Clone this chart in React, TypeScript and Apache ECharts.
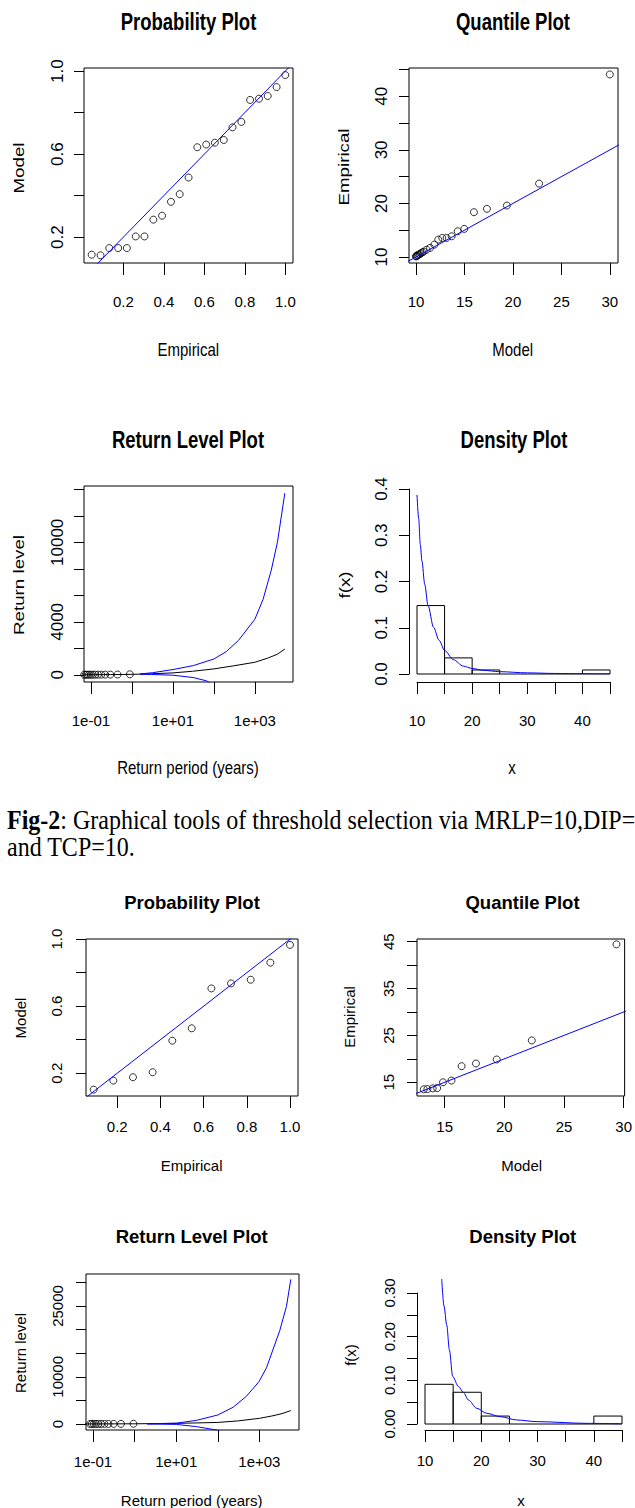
import React, { useEffect, useRef } from 'react';
import * as echarts from 'echarts';

// ================= DATA =================
// Upper figure (threshold 10, 23 exceedances)
const ppTopEmpirical = [0.043, 0.087, 0.130, 0.174, 0.217, 0.261, 0.304, 0.348, 0.391, 0.435, 0.478, 0.522, 0.565, 0.609, 0.652, 0.696, 0.739, 0.783, 0.826, 0.870, 0.913, 0.957, 1.0];
const ppTopModel = [0.115, 0.112, 0.147, 0.147, 0.147, 0.203, 0.203, 0.284, 0.303, 0.370, 0.407, 0.487, 0.633, 0.646, 0.655, 0.668, 0.729, 0.755, 0.861, 0.867, 0.880, 0.923, 0.981];

const qqTopModel = [10.0, 10.05, 10.1, 10.2, 10.3, 10.4, 10.5, 10.65, 10.8, 11.1, 11.45, 11.9, 12.3, 12.71, 13.16, 13.68, 14.3, 14.98, 15.98, 17.32, 19.38, 22.7, 30.0];
const qqTopEmpirical = [10.1, 10.15, 10.25, 10.35, 10.45, 10.55, 10.7, 10.85, 11.0, 11.35, 11.7, 12.3, 13.24, 13.55, 13.55, 13.86, 14.8, 15.24, 18.36, 18.99, 19.6, 23.7, 44.1];

const rlTopPeriod = [0.0387, 0.0405, 0.0424, 0.0445, 0.0468, 0.0494, 0.0524, 0.0556, 0.0593, 0.0636, 0.0685, 0.0742, 0.0809, 0.089, 0.0989, 0.1113, 0.1271, 0.1483, 0.178, 0.2225, 0.2967, 0.445, 0.89];
const rlTopLevel = [10.1, 10.15, 10.25, 10.35, 10.45, 10.55, 10.7, 10.85, 11.0, 11.35, 11.7, 12.3, 13.24, 13.55, 13.55, 13.86, 14.8, 15.24, 18.36, 18.99, 19.6, 23.7, 44.1];
const rlTopFitPeriod = [0.05, 0.3, 1, 3, 10, 30, 100, 300, 1000, 2000, 3500, 5400];
const rlTopFitLevel = [10, 20, 40, 80, 150, 270, 450, 680, 950, 1250, 1550, 1950];
const rlTopUpperPeriod = [1.58, 3.16, 10, 31.6, 100, 200, 398, 1000, 1585, 2512, 3548, 5370];
const rlTopUpperLevel = [70, 160, 400, 700, 1200, 1750, 2600, 4200, 5700, 7900, 10000, 13700];
const rlTopLowerPeriod = [1.57, 3, 10, 31, 66, 100];
const rlTopLowerLevel = [50, 30, -25, -200, -450, -800];

const histBinStart = [10, 15, 20, 25, 30, 35, 40];
const histBinEnd = [15, 20, 25, 30, 35, 40, 45];
const densTopHeight = [0.148, 0.0348, 0.0087, 0, 0, 0, 0.0087];
const densTopCurveX = [10, 10.3, 10.6, 10.9, 11.4, 12, 13, 14, 15, 16.6, 18.4, 20, 22, 25, 30, 35, 40, 45];
const densTopCurveY = [0.387, 0.337, 0.28, 0.244, 0.194, 0.148, 0.101, 0.073, 0.051, 0.031, 0.017, 0.012, 0.008, 0.005, 0.0025, 0.0012, 0.0006, 0.0003];

// Lower figure (11 exceedances)
const ppBotEmpirical = [0.091, 0.182, 0.273, 0.364, 0.455, 0.545, 0.636, 0.727, 0.818, 0.909, 1.0];
const ppBotModel = [0.102, 0.156, 0.176, 0.206, 0.394, 0.468, 0.706, 0.736, 0.758, 0.86, 0.966];

const qqBotModel = [13.25, 13.55, 14.0, 14.37, 14.86, 15.57, 16.42, 17.62, 19.36, 22.3, 29.4];
const qqBotEmpirical = [13.5, 13.55, 13.7, 13.75, 15.0, 15.36, 18.43, 19.0, 19.86, 23.93, 44.43];

const rlBotPeriod = [0.0855, 0.094, 0.1044, 0.1175, 0.1343, 0.1567, 0.188, 0.235, 0.3133, 0.47, 0.94];
const rlBotLevel = [13.5, 13.55, 13.7, 13.75, 15.0, 15.36, 18.43, 19.0, 19.86, 23.93, 44.43];
const rlBotFitPeriod = [0.05, 1, 10, 100, 300, 1000, 2000, 3500, 5700];
const rlBotFitLevel = [13, 40, 130, 330, 650, 1200, 1700, 2200, 2850];
const rlBotUpperPeriod = [2, 10, 31, 100, 234, 490, 977, 1479, 3090, 4467, 5700];
const rlBotUpperLevel = [50, 170, 780, 1907, 3550, 5900, 8969, 11900, 19800, 24900, 30650];
const rlBotLowerPeriod = [2, 10, 31, 93, 150];
const rlBotLowerLevel = [0, -80, -565, -1271, -2000];

const densBotHeight = [0.0909, 0.0727, 0.0182, 0, 0, 0, 0.0182];
const densBotCurveX = [12.97, 13.38, 13.86, 14.33, 14.92, 15.93, 16.82, 17.71, 19.19, 20.97, 23.35, 26.3, 29.9, 38.8, 45];
const densBotCurveY = [0.332, 0.27, 0.227, 0.17, 0.109, 0.086, 0.0727, 0.055, 0.036, 0.0245, 0.0168, 0.0092, 0.0054, 0.0015, 0.0005];

// Reference lines y = x
const ppRefLine = [0, 1.2];
const qqRefLine = [5, 50];

// Tick values / labels
const ppTicks = [0.2, 0.4, 0.6, 0.8, 1.0];
const ppYLabels = [0.2, 0.6, 1.0];
const qqTopXTicks = [10, 15, 20, 25, 30];
const qqTopYTicks = [10, 15, 20, 25, 30, 35, 40, 45];
const qqTopYLabels = [10, 20, 30, 40];
const qqBotXTicks = [15, 20, 25, 30];
const qqBotYTicks = [15, 20, 25, 30, 35, 40, 45];
const qqBotYLabels = [15, 25, 35, 45];
const rlLogTicks = [-1, 0, 1, 2, 3];
const rlLogLabels = [-1, 1, 3];
const rlTopYTicks = [0, 2000, 4000, 6000, 8000, 10000, 12000, 14000];
const rlTopYLabels = [0, 4000, 10000];
const rlBotYTicks = [0, 5000, 10000, 15000, 20000, 25000, 30000];
const rlBotYLabels = [0, 10000, 25000];
const densXTicks = [10, 15, 20, 25, 30, 35, 40, 45];
const densXLabels = [10, 20, 30, 40];
const densTopYTicks = [0, 0.1, 0.2, 0.3, 0.4];
const densBotYTicks = [0, 0.05, 0.1, 0.15, 0.2, 0.25, 0.3];
const densBotYLabels = [0, 0.1, 0.2, 0.3];

// ================= LAYOUT =================
const FONT = "'Liberation Sans', Arial, Helvetica, sans-serif";
const SERIF = "'Liberation Serif', 'Times New Roman', serif";
const BLUE = '#0000ff';

const G = {
  ppTop: { left: 84, top: 68, width: 209, height: 195 },
  qqTop: { left: 409, top: 68, width: 209, height: 195 },
  rlTop: { left: 84, top: 486, width: 209, height: 196 },
  dnTop: { left: 417, top: 489, width: 193, height: 185 },
  ppBot: { left: 86, top: 939, width: 212, height: 157 },
  qqBot: { left: 417, top: 939, width: 212, height: 157 },
  rlBot: { left: 86, top: 1274, width: 213, height: 156 },
  dnBot: { left: 425, top: 1293, width: 197, height: 131 },
};

function grid(b: any, boxed: boolean) {
  return { ...b, show: boxed, borderColor: '#000', borderWidth: 1, backgroundColor: 'transparent', containLabel: false };
}

function axis(kind: 'x' | 'y', gridIndex: number, min: number, max: number, ticks: number[], labels: number[], fmt: (v: number) => string, o: any) {
  return {
    type: 'value',
    gridIndex,
    min,
    max,
    position: kind === 'x' ? 'bottom' : 'left',
    offset: o.offset || 0,
    axisLine: { show: !!o.line, onZero: false, lineStyle: { color: '#000', width: 1 } },
    axisTick: { show: true, inside: false, length: kind === 'x' ? 12 : 10, customValues: ticks, lineStyle: { color: '#000', width: 1 } },
    axisLabel: {
      show: true,
      customValues: labels,
      formatter: fmt,
      margin: o.margin,
      fontSize: o.fontSize,
      fontFamily: FONT,
      color: '#000',
      rotate: kind === 'y' ? 90 : 0,
      hideOverlap: false,
    },
    splitLine: { show: false },
    splitArea: { show: false },
  };
}

function logAxis(gridIndex: number, lo: number, hi: number) {
  return { type: 'log', logBase: 10, gridIndex, min: Math.pow(10, lo), max: Math.pow(10, hi), show: false, position: 'top', splitLine: { show: false } };
}

const f1 = (v: number) => v.toFixed(1);
const f2 = (v: number) => v.toFixed(2);
const fi = (v: number) => String(Math.round(v));
const fe = (v: number) => '1e' + (v < 0 ? '-' : '+') + String(Math.abs(Math.round(v))).padStart(2, '0');

const zip = (a: number[], b: number[]) => a.map((v, i) => [v, b[i]]);

function scatter(xi: number, yi: number, xs: number[], ys: number[]) {
  return {
    type: 'scatter', xAxisIndex: xi, yAxisIndex: yi, data: zip(xs, ys),
    symbol: 'circle', symbolSize: 7, clip: true, silent: true,
    itemStyle: { color: 'rgba(0,0,0,0)', borderColor: '#000', borderWidth: 1 },
  };
}

function line(xi: number, yi: number, xs: number[], ys: number[], color: string, smooth = 0, clip = true) {
  return {
    type: 'line', xAxisIndex: xi, yAxisIndex: yi, data: zip(xs, ys),
    symbol: 'none', showSymbol: false, clip, silent: true,
    smooth, smoothMonotone: 'x',
    lineStyle: { color, width: 1 },
  };
}

function hist(xi: number, yi: number, heights: number[]) {
  return {
    type: 'custom', xAxisIndex: xi, yAxisIndex: yi, silent: true,
    data: histBinStart.map((s, i) => [s, histBinEnd[i], heights[i]]),
    encode: { x: [0, 1], y: 2 },
    renderItem: (_p: any, api: any) => {
      const a = api.coord([api.value(0), api.value(2)]);
      const b = api.coord([api.value(1), 0]);
      if (Math.abs(b[1] - a[1]) < 0.5) {
        return { type: 'line', shape: { x1: a[0], y1: b[1], x2: b[0], y2: b[1] }, style: { stroke: '#000', lineWidth: 1, fill: null } };
      }
      return { type: 'rect', shape: { x: a[0], y: a[1], width: b[0] - a[0], height: b[1] - a[1] }, style: { fill: 'none', stroke: '#000', lineWidth: 1 } };
    },
  };
}

function txt(text: string, x: number, y: number, size: number, bold: boolean, stretch: number, rotated = false) {
  return {
    type: 'text', x, y,
    rotation: rotated ? Math.PI / 2 : 0,
    scaleX: rotated ? stretch : 1,
    scaleY: rotated ? 1 : stretch,
    silent: true,
    style: {
      text, fill: '#000', fontSize: size, fontFamily: FONT, fontWeight: bold ? 'bold' : 'normal',
      textAlign: 'center', textVerticalAlign: 'middle', align: 'center', verticalAlign: 'middle',
    },
  };
}

function buildOption() {
  const grids = [
    grid(G.ppTop, true), grid(G.qqTop, true), grid(G.rlTop, true), grid(G.dnTop, false),
    grid(G.ppBot, true), grid(G.qqBot, true), grid(G.rlBot, true), grid(G.dnBot, false),
  ];
  const xAxes = [
    axis('x', 0, 0.0052, 1.038, ppTicks, ppTicks, f1, { margin: 31, fontSize: 15 }), // 0
    axis('x', 1, 9.28, 30.84, qqTopXTicks, qqTopXTicks, fi, { margin: 31, fontSize: 15 }), // 1
    logAxis(2, -1.17, 3.93), // 2
    axis('x', 2, -1.17, 3.93, rlLogTicks, rlLogLabels, fe, { margin: 30.5, fontSize: 15 }), // 3
    axis('x', 3, 10, 45, densXTicks, densXLabels, fi, { margin: 30.5, fontSize: 15, line: true, offset: 8 }), // 4
    axis('x', 4, 0.0555, 1.037, ppTicks, ppTicks, f1, { margin: 22.5, fontSize: 15 }), // 5
    axis('x', 5, 12.68, 30.08, qqBotXTicks, qqBotXTicks, fi, { margin: 22.5, fontSize: 15 }), // 6
    logAxis(6, -1.168, 3.952), // 7
    axis('x', 6, -1.168, 3.952, rlLogTicks, rlLogLabels, fe, { margin: 24, fontSize: 15 }), // 8
    axis('x', 7, 10, 45, densXTicks, densXLabels, fi, { margin: 22.5, fontSize: 15, line: true, offset: 6 }), // 9
  ];
  const yAxes = [
    axis('y', 0, 0.075, 1.015, ppTicks, ppYLabels, f1, { margin: 18.5, fontSize: 17 }),
    axis('y', 1, 8.87, 45.3, qqTopYTicks, qqTopYLabels, fi, { margin: 18.8, fontSize: 17 }),
    axis('y', 2, -538, 14248, rlTopYTicks, rlTopYLabels, fi, { margin: 18.5, fontSize: 17 }),
    axis('y', 3, 0, 0.4, densTopYTicks, densTopYTicks, f1, { margin: 18.8, fontSize: 17, line: true, offset: 8 }),
    axis('y', 4, 0.064, 1.001, ppTicks, ppYLabels, f1, { margin: 21.8, fontSize: 15 }),
    axis('y', 5, 12.07, 45.57, qqBotYTicks, qqBotYLabels, fi, { margin: 21.2, fontSize: 15 }),
    axis('y', 6, -1271, 31780, rlBotYTicks, rlBotYLabels, fi, { margin: 21.5, fontSize: 15 }),
    axis('y', 7, 0, 0.3, densBotYTicks, densBotYLabels, f2, { margin: 20.5, fontSize: 15, line: true, offset: 8 }),
  ];

  const series = [
    // Probability plot (top)
    line(0, 0, ppRefLine, ppRefLine, BLUE),
    scatter(0, 0, ppTopEmpirical, ppTopModel),
    // Quantile plot (top)
    line(1, 1, qqRefLine, qqRefLine, BLUE),
    scatter(1, 1, qqTopModel, qqTopEmpirical),
    // Return level plot (top)
    line(2, 2, rlTopFitPeriod, rlTopFitLevel, '#000'),
    line(2, 2, rlTopUpperPeriod, rlTopUpperLevel, BLUE),
    line(2, 2, rlTopLowerPeriod, rlTopLowerLevel, BLUE),
    scatter(2, 2, rlTopPeriod, rlTopLevel),
    // Density plot (top)
    hist(4, 3, densTopHeight),
    line(4, 3, densTopCurveX, densTopCurveY, BLUE, 0.3),
    // Probability plot (bottom)
    line(5, 4, ppRefLine, ppRefLine, BLUE),
    scatter(5, 4, ppBotEmpirical, ppBotModel),
    // Quantile plot (bottom)
    line(6, 5, qqRefLine, qqRefLine, BLUE),
    scatter(6, 5, qqBotModel, qqBotEmpirical),
    // Return level plot (bottom)
    line(7, 6, rlBotFitPeriod, rlBotFitLevel, '#000'),
    line(7, 6, rlBotUpperPeriod, rlBotUpperLevel, BLUE),
    line(7, 6, rlBotLowerPeriod, rlBotLowerLevel, BLUE),
    scatter(7, 6, rlBotPeriod, rlBotLevel),
    // Density plot (bottom)
    hist(9, 7, densBotHeight),
    line(9, 7, densBotCurveX, densBotCurveY, BLUE, 0.3, false),
  ];

  const S1 = 1.25;
  const S2 = 1.0;
  const elements: any[] = [
    txt('Probability Plot', 188.5, 21.5, 18.5, true, S1),
    txt('Quantile Plot', 513, 21.5, 18.5, true, S1),
    txt('Return Level Plot', 188, 440, 18.5, true, S1),
    txt('Density Plot', 514, 440, 18.5, true, S1),
    txt('Probability Plot', 192, 902.5, 18.5, true, S2),
    txt('Quantile Plot', 522.5, 902.5, 18.5, true, S2),
    txt('Return Level Plot', 191.7, 1236, 18.5, true, S2),
    txt('Density Plot', 522.8, 1236, 18.5, true, S2),

    txt('Empirical', 188.3, 350, 15, false, S1),
    txt('Model', 512.7, 350, 15, false, S1),
    txt('Return period (years)', 188, 768, 15, false, S1),
    txt('x', 512, 768, 15, false, S1),
    txt('Empirical', 191.7, 1165, 15, false, S2),
    txt('Model', 521.7, 1165, 15, false, S2),
    txt('Return period (years)', 191.7, 1500, 15, false, S2),
    txt('x', 521, 1500, 15, false, S2),

    txt('Model', 19, 168, 15, false, S1, true),
    txt('Empirical', 344, 167, 15, false, S1, true),
    txt('Return level', 19, 585, 15, false, S1, true),
    txt('f(x)', 345, 585, 15, false, S1, true),
    txt('Model', 20, 1018, 15, false, S2, true),
    txt('Empirical', 349, 1017, 15, false, S2, true),
    txt('Return level', 20, 1353, 15, false, S2, true),
    txt('f(x)', 350.7, 1355, 15, false, S2, true),

    {
      type: 'text', x: 7, y: 819.5, scaleY: 1.15, silent: true,
      style: {
        text: '{b|Fig-2}: Graphical tools of threshold selection via MRLP=10,DIP=',
        rich: { b: { fontWeight: 'bold', fontSize: 24, fontFamily: SERIF, fill: '#000' } },
        fill: '#000', fontSize: 24, fontFamily: SERIF,
        textAlign: 'left', textVerticalAlign: 'middle', align: 'left', verticalAlign: 'middle',
      },
    },
    {
      type: 'text', x: 7, y: 846.5, scaleY: 1.15, silent: true,
      style: {
        text: 'and TCP=10.', fill: '#000', fontSize: 24, fontFamily: SERIF,
        textAlign: 'left', textVerticalAlign: 'middle', align: 'left', verticalAlign: 'middle',
      },
    },
  ];

  return {
    animation: false,
    backgroundColor: '#ffffff',
    textStyle: { fontFamily: FONT },
    grid: grids,
    xAxis: xAxes,
    yAxis: yAxes,
    series,
    graphic: { elements },
  };
}

export default function App() {
  const ref = useRef<HTMLDivElement>(null);
  useEffect(() => {
    if (!ref.current) return;
    const chart = echarts.init(ref.current, undefined, { renderer: 'svg' });
    chart.setOption(buildOption() as any);
    return () => chart.dispose();
  }, []);
  return <div ref={ref} style={{ position: 'absolute', left: 0, top: 0, width: 635, height: 1508, background: '#fff' }} />;
}
